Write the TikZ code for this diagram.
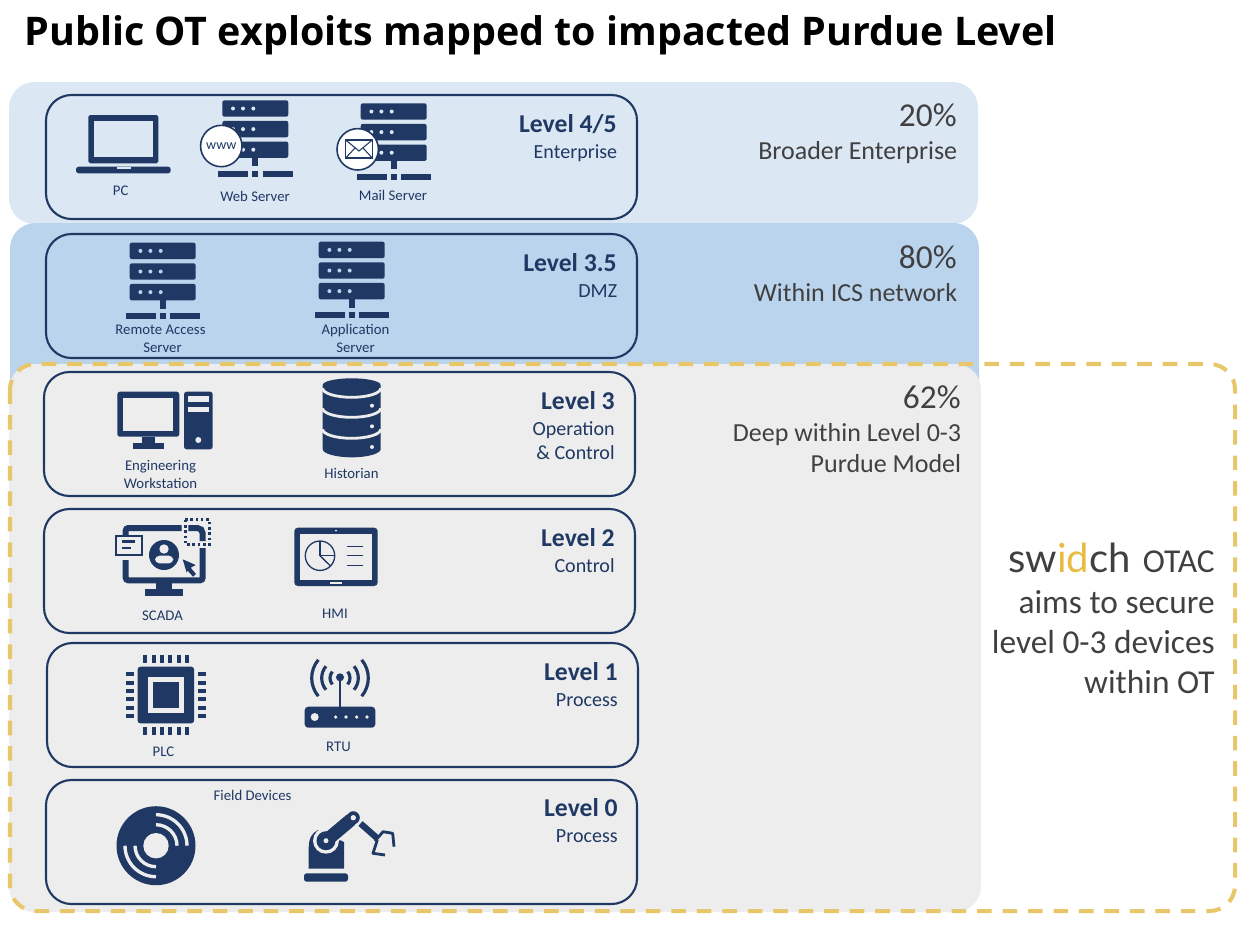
\documentclass[tikz,border=0pt]{standalone}
\usepackage{fontspec}
\setmainfont{Carlito}
\newfontfamily\titlefont{Open Sans}
\newfontfamily\logofont{Lato}
\definecolor{navy}{HTML}{1F3864}
\definecolor{palesky}{HTML}{DCE7F4}
\definecolor{sky}{HTML}{BAD4EE}
\definecolor{panel}{HTML}{EDEDED}
\definecolor{gold}{HTML}{E8C76B}
\definecolor{logogold}{HTML}{E8BC40}
\definecolor{ink}{HTML}{404040}
\tikzset{
	band/.style={rounded corners=14.5pt},
	levelbox/.style={draw=navy, line width=1.2pt, rounded corners=14.5pt},
	leveltitle/.style={anchor=base east, text=navy, font=\fontsize{14.6}{14.6}\selectfont\bfseries, inner sep=0pt},
	levelsub/.style={anchor=base east, text=navy, font=\fontsize{11.4}{11.4}\selectfont, inner sep=0pt},
	iconlabel/.style={anchor=base, text=navy, font=\fontsize{8.4}{8.4}\selectfont, inner sep=0pt},
	sidenote/.style={anchor=base east, text=ink, font=\fontsize{14.8}{14.8}\selectfont, inner sep=0pt},
	bignote/.style={anchor=base east, text=ink, font=\fontsize{19}{19}\selectfont, inner sep=0pt},
}
\begin{document}
\begin{tikzpicture}[x=0.02cm, y=-0.02cm]
	\useasboundingbox (0,0) rectangle (1256,924);
	% Background bands
	\fill [band, palesky] (9,82) rectangle (978,224);
	\fill [band, sky] (10,223) rectangle (979,420);
	\fill [band, panel] (9,364) rectangle (981,912);
	\draw [gold, line width=2.3pt, rounded corners=14.5pt, dash pattern=on 8.3pt off 6.2pt] (10,364) rectangle (1235,911);
	% Title
	\node [anchor=base west, inner sep=0pt, font=\titlefont\fontsize{22.45}{22.45}\selectfont\bfseries] (title) at (24,45) {Public OT exploits mapped to impacted Purdue Level};
	% Level boxes
	\draw [levelbox] (46,95) rectangle (637,219);
	\draw [levelbox] (46,234) rectangle (637,358);
	\draw [levelbox] (44,372) rectangle (635,496);
	\draw [levelbox] (44,509) rectangle (635,633);
	\draw [levelbox] (47,643) rectangle (638,767);
	\draw [levelbox] (46,780) rectangle (637,904);
	% Level names
	\node [leveltitle] (levelfour) at (617,132) {Level 4/5};
	\node [levelsub] (enterprise) at (617.5,158) {Enterprise};
	\node [leveltitle] (levelthreehalf) at (617,271) {Level 3.5};
	\node [levelsub] (dmz) at (617.5,297) {DMZ};
	\node [leveltitle] (levelthree) at (615,409) {Level 3};
	\node [levelsub] (operation) at (615,435) {Operation};
	\node [levelsub] (control) at (615,459) {\& Control};
	\node [leveltitle] (leveltwo) at (615,546) {Level 2};
	\node [levelsub] (controltwo) at (615,572) {Control};
	\node [leveltitle] (levelone) at (618,680) {Level 1};
	\node [levelsub] (processone) at (618,706) {Process};
	\node [leveltitle] (levelzero) at (618,816) {Level 0};
	\node [levelsub] (processzero) at (618,842) {Process};
	% Shares
	\node [bignote] (twenty) at (957,126) {20\%};
	\node [sidenote] (broader) at (957.5,159) {Broader Enterprise};
	\node [bignote] (eighty) at (957,268) {80\%};
	\node [sidenote] (within) at (957.5,301) {Within ICS network};
	\node [bignote] (sixtytwo) at (961,408) {62\%};
	\node [sidenote] (deep) at (961.5,441) {Deep within Level 0-3};
	\node [sidenote] (purdue) at (961.5,472) {Purdue Model};
	% OTAC note
	\node [bignote] (otac) at (1215,572) {\logofont\fontsize{22.8}{22.8}\selectfont\color{ink}sw\color{logogold}id\color{ink}ch\hspace{7pt}\fontspec{Carlito}\fontsize{19}{19}\selectfont OTAC};
	\node [bignote] (aims) at (1215,613) {aims to secure};
	\node [bignote] (devices) at (1215,653) {level 0-3 devices};
	\node [bignote] (withinot) at (1215,693) {within OT};
	% Servers
	\foreach \sx/\sy/\sc in {222.3/100.3/palesky, 360.7/103.3/palesky, 129.7/242.7/sky, 318.7/241.7/sky}{
		\begin{scope}[shift={(\sx,\sy)}]
			\foreach \k in {0,20.6,41.2}{
				\fill [navy, rounded corners=1.2pt] (0,\k) rectangle (66,\k+16.4);
				\foreach \d in {10.7,20.7,31}{
					\fill [\sc] (\d,\k+8.2) circle (2);
				}
			}
			\fill [navy] (30,57) rectangle (36,66);
			\fill [navy] (-4,70.4) rectangle (26,76.4);
			\fill [navy] (30,70.4) rectangle (36,76.4);
			\fill [navy] (40.4,70.4) rectangle (70.4,76.4);
		\end{scope}
	}
	% Laptop
	\fill [navy, rounded corners=1pt] (88.3,115) rectangle (158.3,163.3);
	\fill [palesky] (94.3,120.7) rectangle (152.7,156.7);
	\fill [navy, rounded corners=1.5pt] (76,166.7) -- (170.7,166.7) -- (170.7,173.3) -- (76,173.3) -- cycle;
	\fill [palesky] (116.7,166.7) rectangle (130.7,168.5);
	% Web and mail badges
	\draw [navy, fill=white, line width=0.9pt] (221.3,146) circle (20.7);
	\node [text=navy, inner sep=0pt, font=\fontsize{8}{8}\selectfont] (www) at (221.3,146) {www};
	\draw [navy, fill=white, line width=0.9pt] (357.7,149.3) circle (20.7);
	\draw [navy, line width=0.9pt] (345.7,140) rectangle (372.3,158);
	\draw [navy, line width=0.6pt] (345.7,140) -- (359,151) -- (372.3,140);
	\draw [navy, line width=0.6pt] (345.7,158) -- (355,148);
	\draw [navy, line width=0.6pt] (372.3,158) -- (363,148);
	% Workstation
	\fill [navy, rounded corners=1.5pt] (117.3,391.7) rectangle (179.3,436.7);
	\fill [panel] (123.3,397.7) rectangle (173.3,430.7);
	\fill [navy] (141.7,436.7) rectangle (155,443.3);
	\fill [navy] (132.7,443.3) rectangle (164,449.3);
	\fill [navy, rounded corners=1.5pt] (184,391.7) rectangle (212.7,449.3);
	\fill [panel] (188,396) rectangle (208.7,401.7);
	\fill [panel] (188,406.7) rectangle (208.7,412.3);
	\fill [panel] (198.3,440) circle (3);
	% Historian
	\fill [navy] (322.7,385) arc [start angle=180, end angle=360, x radius=29, y radius=6.7]
		-- (380.7,449) arc [start angle=0, end angle=180, x radius=29, y radius=8.3] -- cycle;
	\foreach \k in {388.3,408.3,429.3}{
		\draw [panel, line width=1.6pt] (322.7,\k) arc [start angle=180, end angle=0, x radius=29, y radius=9];
	}
	\foreach \k in {405.7,426.3,447}{
		\fill [panel] (372,\k) circle (2);
	}
	% SCADA
	\draw [navy, line width=3.4pt, rounded corners=1.5pt] (125.7,535) -- (125.7,528) -- (181.7,528);
	\draw [navy, line width=3.4pt, rounded corners=3pt] (188.3,528) -- (202.7,528) -- (202.7,541);
	\draw [navy, line width=3.4pt, rounded corners=1.5pt] (202.7,548) -- (202.7,580.3) -- (125.7,580.3) -- (125.7,560);
	\draw [navy, line width=1.5pt, dash pattern=on 1.5pt off 1.5pt] (185.3,519.7) rectangle (209.3,544.3);
	\fill [navy] (155.7,583.3) rectangle (172.3,589.3);
	\fill [navy] (145.3,589.3) rectangle (182.7,595.7);
	\draw [navy, line width=1.1pt] (116,536) rectangle (142.3,555);
	\draw [navy, line width=1.3pt] (122.3,541.5) -- (135,541.5);
	\draw [navy, line width=1.3pt] (122.3,548) -- (130.7,548);
	\fill [navy] (164,555) circle (15);
	\fill [panel] (164,549) circle (4.7);
	\fill [panel, rounded corners=2.5pt] (155,563.3) -- (155,555.7) -- (173.3,555.7) -- (173.3,563.3) -- cycle;
	\fill [navy] (182.7,559.3) -- (195.7,565) -- (190.7,567.7) -- (196,574) -- (193,576.7) -- (187.5,570.5) -- (186.7,572.7) -- cycle;
	% HMI
	\fill [navy, rounded corners=2pt] (294.3,527.7) rectangle (377.7,586);
	\fill [panel] (300,534) rectangle (371.7,580);
	\fill [panel] (336,530.7) circle (1);
	\fill [panel] (330,581.7) rectangle (342,584);
	\draw [navy, line width=0.75pt] (320,555.7) circle (14.7);
	\draw [navy, line width=0.75pt] (320,541) -- (320,555.7) -- (334.7,555.7);
	\draw [navy, line width=0.75pt] (320,555.7) -- (330.5,566);
	\foreach \k in {546,555.3,565.3}{
		\draw [navy, line width=0.4pt] (346.7,\k) -- (363.3,\k);
	}
	% PLC
	\foreach \k in {0,...,5}{
		\fill [navy] (145.3+8.3*\k-2,655) rectangle (145.3+8.3*\k+2,662.7);
		\fill [navy] (145.3+8.3*\k-2,727.3) rectangle (145.3+8.3*\k+2,735);
		\fill [navy] (126.3,674.3+8.3*\k-2) rectangle (134,674.3+8.3*\k+2);
		\fill [navy] (198,674.3+8.3*\k-2) rectangle (205.7,674.3+8.3*\k+2);
	}
	\fill [navy, rounded corners=1.5pt] (137.7,666.7) rectangle (194,723.3);
	\fill [panel] (148.3,677.3) rectangle (184,712.7);
	\fill [navy] (152.7,681.7) rectangle (179.3,708.3);
	% RTU
	\fill [navy, rounded corners=2pt] (304.7,706.7) rectangle (375.3,727.7);
	\fill [panel] (314.7,717) circle (4);
	\foreach \k in {335.7,346,356.7,367}{
		\fill [panel] (\k,717) circle (1.8);
	}
	\draw [navy, line width=1.5pt] (340,678) -- (340,706.7);
	\fill [navy] (340,677.3) circle (4);
	\foreach \r in {10,18.3,28.3}{
		\draw [navy, line width=1.8pt] (340,678) ++(140:\r) arc [start angle=140, end angle=220, radius=\r];
		\draw [navy, line width=1.8pt] (340,678) ++(40:\r) arc [start angle=40, end angle=-40, radius=\r];
	}
	% Disc
	\fill [navy] (156,845.7) circle (39.5);
	\fill [panel] (156,845.7) circle (12.7);
	\foreach \r in {21,31}{
		\draw [panel, line width=1.9pt] (156,845.7) ++(180:\r) arc [start angle=180, end angle=90, radius=\r];
		\draw [panel, line width=1.9pt] (156,845.7) ++(0:\r) arc [start angle=0, end angle=-90, radius=\r];
	}
	% Robot arm
	\fill [navy, rounded corners=1.5pt] (304,873.3) -- (348,873.3) -- (348,881.7) -- (304,881.7) -- cycle;
	\fill [navy] (308.7,868.7) -- (308.7,848) .. controls (308.7,838) and (312,833) .. (318,830) -- (344,842) -- (344,868.7) -- cycle;
	\draw [panel, line width=9.5pt] (326,840.7) -- (353.3,817.7);
	\fill [panel] (326,840.7) circle (13);
	\draw [navy, line width=7.5pt, line cap=round] (326,840.7) -- (350,820.5);
	\fill [navy] (326,840.7) circle (9.5);
	\fill [panel] (326,840.7) circle (2.5);
	\fill [navy] (353.3,817.7) circle (6.5);
	\fill [panel] (353.3,817.7) circle (2.7);
	\draw [navy, line width=3.6pt] (360.5,823.5) -- (377.3,838.3);
	\draw [navy, line width=1.6pt, line join=round] (375,841) -- (383,831.7) -- (392.7,833.3) -- (394,846.7);
	\draw [navy, line width=1.6pt, line join=round] (377.3,840) -- (373,853.3) -- (385,855);
	% Icon names
	\node [iconlabel] (pc) at (120.7,195) {PC};
	\node [iconlabel] (webserver) at (255,201) {Web Server};
	\node [iconlabel] (mailserver) at (393,200) {Mail Server};
	\node [iconlabel] (remote) at (160.5,334) {Remote Access};
	\node [iconlabel] (remotetwo) at (162.5,352) {Server};
	\node [iconlabel] (application) at (355.5,334) {Application};
	\node [iconlabel] (applicationtwo) at (355.5,352) {Server};
	\node [iconlabel] (engineering) at (160.5,470) {Engineering};
	\node [iconlabel] (workstation) at (160.5,488) {Workstation};
	\node [iconlabel] (historian) at (351.5,478) {Historian};
	\node [iconlabel] (scada) at (162.5,620) {SCADA};
	\node [iconlabel] (hmi) at (335,618) {HMI};
	\node [iconlabel] (plc) at (163.5,756) {PLC};
	\node [iconlabel] (rtu) at (338.5,751) {RTU};
	\node [iconlabel] (field) at (252.5,800) {Field Devices};
\end{tikzpicture}
\end{document}
